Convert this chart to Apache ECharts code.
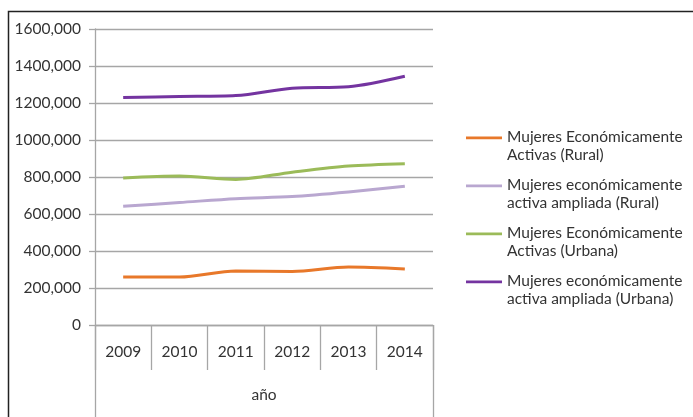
<!DOCTYPE html>
<html>
<head>
<meta charset="utf-8">
<script src="https://cdn.jsdelivr.net/npm/echarts@6/dist/echarts.min.js"></script>
<style>
  html, body { margin: 0; padding: 0; background: #fff; }
  #main { width: 693px; height: 417px; }
</style>
</head>
<body>
<div id="main"></div>
<script>
// datos
var years = ["2009", "2010", "2011", "2012", "2013", "2014"];
var ruralActivas = [259000, 259000, 292000, 289000, 313000, 303000];
var ruralAmpliada = [642000, 662000, 683000, 694000, 719000, 750000];
var urbanaActivas = [795000, 805000, 787000, 826000, 859000, 872000];
var urbanaAmpliada = [1230000, 1235000, 1240000, 1280000, 1288000, 1345000];
var seriesNames = [
  "Mujeres Económicamente\nActivas (Rural)",
  "Mujeres económicamente\nactiva ampliada (Rural)",
  "Mujeres Económicamente\nActivas (Urbana)",
  "Mujeres económicamente\nactiva ampliada (Urbana)"
];
var colors = ["#E8782A", "#B9A7D0", "#9BBB59", "#7434A0"];
var axisTitle = "año";

var font = "Lato";
var gris = "#A6A6A6";

var myChart = echarts.init(document.getElementById("main"));

function linea(name, data, color) {
  return {
    name: name,
    type: "line",
    data: data,
    smooth: 0.3,
    symbol: "none",
    lineStyle: { color: color, width: 3 },
    itemStyle: { color: color },
  };
}

// icono de leyenda: raya a la altura de la primera línea del texto
var iconoRaya = "path://M0,0H0.01V0.01H0Z M0,8.5H36V11.2H0Z M0,36H0.01V36.01H0Z";

var option = {
  animation: false,
  textStyle: { fontFamily: font },
  graphic: [
    {
      type: "rect",
      shape: { x: 8.5, y: 11.5, width: 720, height: 430 },
      style: { fill: "none", stroke: "#222", lineWidth: 1.5 },
      silent: true,
    },
  ],
  legend: {
    orient: "vertical",
    left: 461,
    top: 123,
    itemWidth: 36,
    itemHeight: 36,
    itemGap: 12,
    icon: iconoRaya,
    textStyle: {
      fontFamily: font,
      fontSize: 15.5,
      color: "#333",
      lineHeight: 18,
    },
    data: seriesNames,
  },
  grid: [
    { left: 95, top: 29, right: 260, bottom: 92 },
    { left: 95, top: 29, right: 260, bottom: 92 },
  ],
  xAxis: [
    {
      type: "category",
      gridIndex: 0,
      data: years,
      boundaryGap: true,
      axisLine: { show: true, lineStyle: { color: gris, width: 1.3 } },
      axisTick: { show: true, length: 45, lineStyle: { color: gris, width: 1.3 } },
      axisLabel: { margin: 19, fontFamily: font, fontSize: 15.5, color: "#333" },
    },
    {
      type: "category",
      gridIndex: 1,
      data: [axisTitle],
      boundaryGap: true,
      axisLine: { show: false },
      axisTick: { show: true, length: 95, lineStyle: { color: gris, width: 1.3 } },
      axisLabel: { margin: 62, fontFamily: font, fontSize: 15.5, color: "#333" },
    },
  ],
  yAxis: [
    {
      type: "value",
      gridIndex: 0,
      min: 0,
      max: 1600000,
      interval: 200000,
      axisLine: { show: true, lineStyle: { color: gris, width: 1.3 } },
      axisTick: { show: true, length: 6, lineStyle: { color: gris, width: 1.3 } },
      splitLine: { show: true, lineStyle: { color: gris, width: 1.3 } },
      axisLabel: {
        margin: 14,
        fontFamily: font,
        fontSize: 15.5,
        color: "#333",
        formatter: function (v) {
          return v === 0 ? "0" : v / 1000 + ",000";
        },
      },
    },
    {
      type: "value",
      gridIndex: 1,
      show: false,
      min: 0,
      max: 1,
    },
  ],
  series: [
    linea(seriesNames[0], ruralActivas, colors[0]),
    linea(seriesNames[1], ruralAmpliada, colors[1]),
    linea(seriesNames[2], urbanaActivas, colors[2]),
    linea(seriesNames[3], urbanaAmpliada, colors[3]),
  ],
};
option && myChart.setOption(option);
</script>
</body>
</html>
